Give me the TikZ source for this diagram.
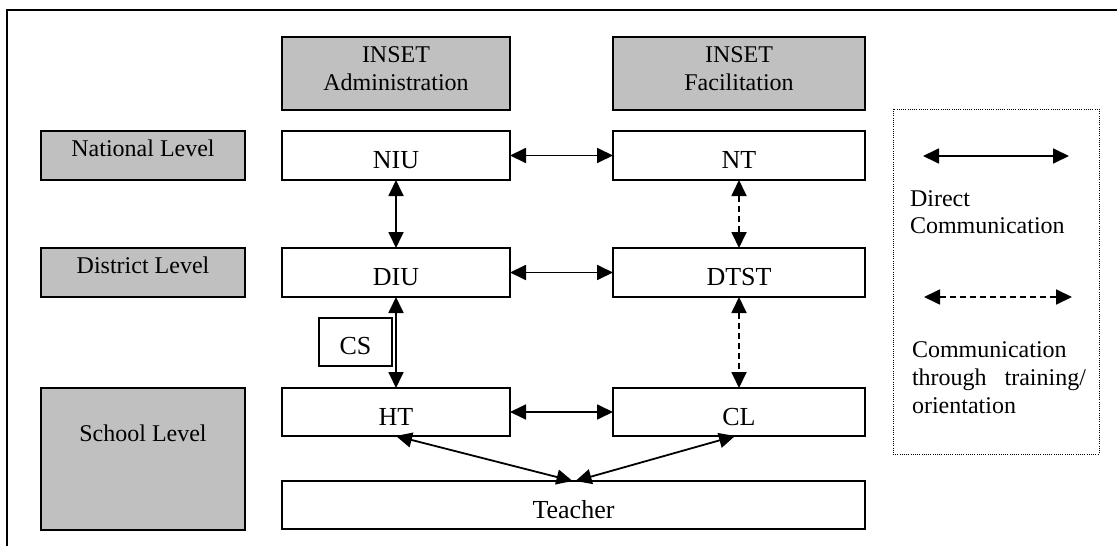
\documentclass[tikz,border=0pt]{standalone}
\usepackage{fontspec}
\setmainfont{Liberation Serif}
\usetikzlibrary{arrows.meta}

\definecolor{boxgrey}{HTML}{C0C0C0}

\begin{document}
\begin{tikzpicture}[x=1pt, y=-1pt,
  every node/.style={inner sep=0pt, outer sep=0pt},
  box/.style={draw=black, line width=1.8pt, rectangle},
  greybox/.style={box, fill=boxgrey},
  lvltext/.style={anchor=base, font=\fontsize{24}{27}\selectfont},
  mtext/.style={anchor=base, font=\fontsize{26}{29}\selectfont},
  legtext/.style={anchor=base west, font=\fontsize{24}{27}\selectfont},
  link/.style={line width=1.8pt, {Triangle[length=16pt,width=15pt]}-{Triangle[length=16pt,width=15pt]}},
  dlink/.style={link, dash pattern=on 6pt off 4pt},
]
\useasboundingbox (0,0) rectangle (1117,546);
\clip (0,0) rectangle (1117,546);

% outer frame
\draw[line width=1.3pt] (7,10) rectangle (1130,560);

% column headers
\node[greybox, minimum width=228pt, minimum height=73pt] (adm) at (396,73.5) {};
\node[greybox, minimum width=252pt, minimum height=73pt] (fac) at (739,73.5) {};
\node[lvltext] (adm1) at (396,62) {INSET};
\node[lvltext] (adm2) at (396,90) {Administration};
\node[lvltext] (fac1) at (739,62) {INSET};
\node[lvltext] (fac2) at (739,90) {Facilitation};

% level labels
\node[greybox, minimum width=204pt, minimum height=49pt] (natl) at (143,155.5) {};
\node[greybox, minimum width=204pt, minimum height=49pt] (distl) at (143,272.5) {};
\node[greybox, minimum width=204pt, minimum height=142pt] (schl) at (143,459) {};
\node[lvltext] (natlt) at (143,156) {National Level};
\node[lvltext] (distlt) at (143,273) {District Level};
\node[lvltext] (schlt) at (143,441) {School Level};

% units
\node[box, minimum width=228pt, minimum height=49pt] (niu) at (396,155.5) {};
\node[box, minimum width=252pt, minimum height=49pt] (nt) at (739,155.5) {};
\node[box, minimum width=228pt, minimum height=49pt] (diu) at (396,272.5) {};
\node[box, minimum width=252pt, minimum height=49pt] (dtst) at (739,272.5) {};
\node[box, minimum width=73pt, minimum height=48pt] (cs) at (355.5,342) {};
\node[box, minimum width=228pt, minimum height=48pt] (ht) at (396,412) {};
\node[box, minimum width=252pt, minimum height=48pt] (cl) at (739,412) {};
\node[box, minimum width=583pt, minimum height=48pt] (teacher) at (573.5,505) {};

\node[mtext] (niut) at (396,168) {NIU};
\node[mtext] (ntt) at (739,168) {NT};
\node[mtext] (diut) at (396,285) {DIU};
\node[mtext] (dtstt) at (739,285) {DTST};
\node[mtext] (cst) at (355.5,354.5) {CS};
\node[mtext] (htt) at (396,425) {HT};
\node[mtext] (clt) at (739,425) {CL};
\node[mtext] (teachert) at (573.5,518) {Teacher};

% communication links
\draw[link] (niu.east) -- (nt.west);
\draw[link] (diu.east) -- (dtst.west);
\draw[link] (ht.east) -- (cl.west);
\draw[link] (niu.south) -- (diu.north);
\draw[link] (diu.south) -- (ht.north);
\draw[dlink] (nt.south) -- (dtst.north);
\draw[dlink] (dtst.south) -- (cl.north);
\draw[link] (ht.south) -- ([xshift=-1pt]teacher.north);
\draw[link] ([xshift=-4pt]cl.south) -- ([xshift=2pt]teacher.north);

% legend
\node[draw=black, line width=0.9pt, dash pattern=on 1pt off 1.2pt,
      minimum width=206pt, minimum height=345pt] (legend) at (996,281.5) {};
\coordinate (sa) at (923,156);
\coordinate (sb) at (1069,156);
\draw[link] (sa) -- (sb);
\node[legtext] (lg1) at (910,206) {Direct};
\node[legtext] (lg2) at (910,233) {Communication};
\coordinate (da) at (924,297);
\coordinate (db) at (1072,297);
\draw[dlink] (da) -- (db);
\node[legtext] (lg3) at (912,357) {Communication};
\node[legtext] (lg4) at (912,385) {\makebox[174pt][l]{through\hfill training/}};
\node[legtext] (lg5) at (912,413) {orientation};
\end{tikzpicture}
\end{document}
